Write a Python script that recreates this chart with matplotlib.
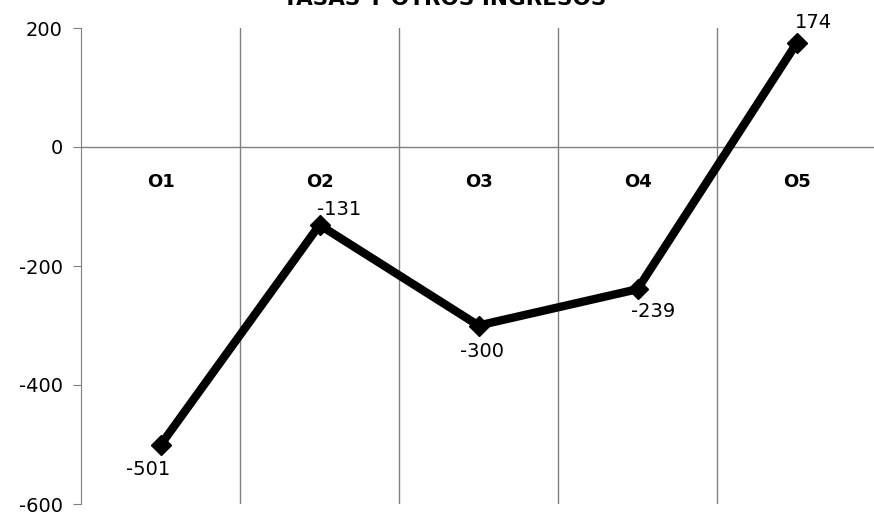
import matplotlib
matplotlib.use("Agg")
import matplotlib.pyplot as plt

title = "TASAS Y OTROS INGRESOS"
categories = ["O1", "O2", "O3", "O4", "O5"]
values = [-501, -131, -300, -239, 174]
yticks = [200, 0, -200, -400, -600]

plt.rcParams['axes.unicode_minus'] = False
plt.rcParams['font.family'] = ['DejaVu Sans']

W, H = 874, 516
fig = plt.figure(figsize=(W / 100, H / 100), dpi=100)
ax = fig.add_axes([81 / W, 1 - 504 / H, 5 * 159 / W, (504 - 28) / H])

x = list(range(1, len(categories) + 1))
ax.set_xlim(0.5, len(categories) + 0.5)
ax.set_ylim(-600, 200)

grey = "#808080"
for b in range(1, len(categories)):
    ax.axvline(b + 0.5, color=grey, lw=1, zorder=1)
ax.axhline(0, color=grey, lw=1, zorder=1)

ax.plot(x, values, color="black", lw=6, marker="D", markersize=10,
        solid_joinstyle="miter", zorder=3)

for s in ["top", "right", "bottom"]:
    ax.spines[s].set_visible(False)
ax.spines["left"].set_color(grey)
ax.set_xticks([])
ax.set_yticks(yticks)
ax.set_yticklabels([str(v) for v in yticks], fontsize=14)
ax.tick_params(axis="y", length=6, color=grey, pad=7)

for xi, c in zip(x, categories):
    ax.text(xi, -58, c, ha="center", va="center", fontsize=13, fontweight="bold")

offsets = [(-12, -24), (20, 15), (3, -26), (16, -22), (17, 21)]
for xi, v, off in zip(x, values, offsets):
    ax.annotate(str(v), (xi, v), xytext=off, textcoords="offset pixels",
                ha="center", va="center", fontsize=14)

fig.text(445 / W, 1 - 5 / H, title, ha="center", va="baseline",
         fontsize=15.5, fontweight="bold")

fig.savefig("out.png", dpi=100)
